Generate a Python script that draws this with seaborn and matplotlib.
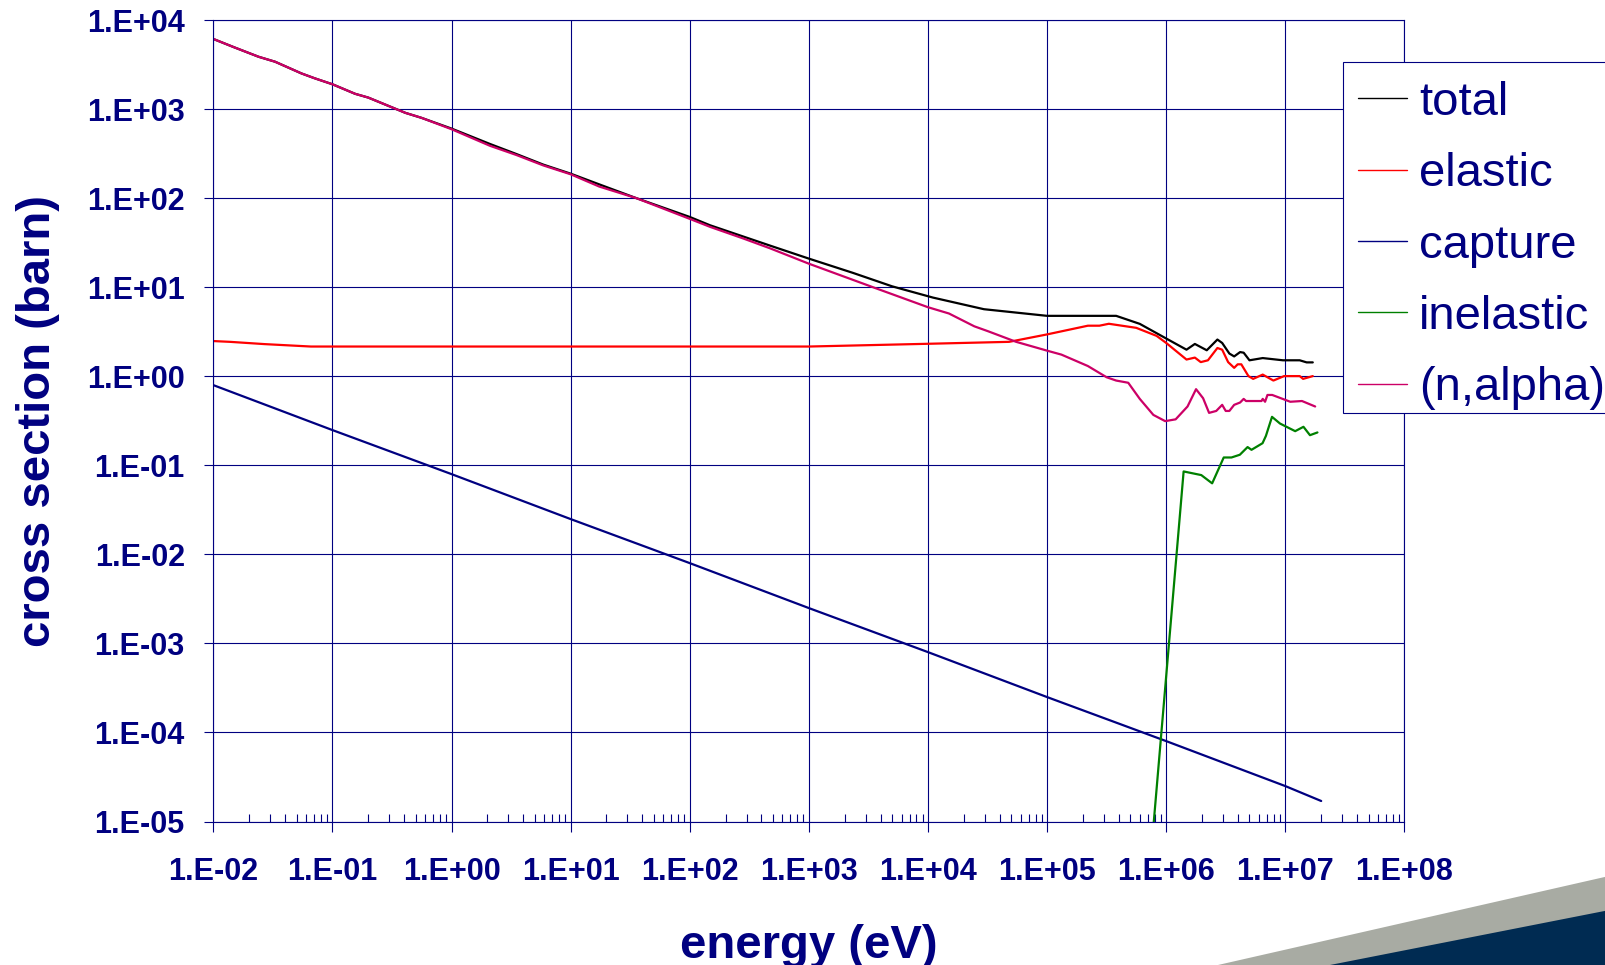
import numpy as np
import pandas as pd
import matplotlib
matplotlib.use("Agg")
import matplotlib.pyplot as plt
from matplotlib.patches import Polygon, Rectangle
from matplotlib.ticker import FuncFormatter, LogLocator, NullLocator, NullFormatter
import seaborn as sns

# ---- cross-section data (energy in eV, cross section in barn) ----
total_E = [1.0e-2, 1.5e-2, 2.4e-2, 3.3e-2, 5.5e-2, 7.1e-2, 1.0e-1, 1.55e-1, 2.0e-1,
           4.1e-1, 5.6e-1, 1.0, 2.1, 3.5, 5.9, 1.0e1, 1.74e1, 3.55e1, 1.0e2, 1.48e2,
           4.7e2, 1.0e3, 2.34e3, 5.0e3, 1.1e4, 2.95e4, 1.0e5, 3.8e5, 6.0e5, 1.0e6,
           1.48e6, 1.74e6, 2.19e6, 2.69e6, 2.95e6, 3.39e6, 3.72e6, 4.17e6, 4.47e6,
           5.0e6, 6.46e6, 9.55e6, 1.32e7, 1.51e7, 1.70e7]
total_xs = [6200, 4990, 3910, 3440, 2540, 2240, 1920, 1500, 1360,
            916, 805, 610, 410, 316, 240, 190, 144, 101, 62, 50,
            29.6, 21.1, 14.6, 10.3, 7.7, 5.7, 4.8, 4.8, 3.9, 2.67,
            2.0, 2.32, 1.97, 2.6, 2.38, 1.81, 1.68, 1.88, 1.85,
            1.52, 1.61, 1.52, 1.52, 1.44, 1.44]

elastic_E = [1.0e-2, 1.38e-2, 2.7e-2, 6.6e-2, 1.0, 1.0e2, 1.0e3, 1.0e4, 4.8e4,
             1.0e5, 2.2e5, 2.75e5, 3.3e5, 5.6e5, 8.3e5, 1.0e6, 1.48e6, 1.74e6,
             1.95e6, 2.24e6, 2.69e6, 2.95e6, 3.31e6, 3.72e6, 3.98e6, 4.27e6,
             4.9e6, 5.37e6, 6.46e6, 7.94e6, 9.77e6, 1.32e7, 1.41e7, 1.70e7]
elastic_xs = [2.5, 2.45, 2.31, 2.17, 2.17, 2.17, 2.17, 2.33, 2.45,
              2.97, 3.72, 3.72, 3.91, 3.52, 2.86, 2.38, 1.55, 1.63,
              1.45, 1.52, 2.09, 2.0, 1.45, 1.25, 1.37, 1.37,
              1.01, 0.94, 1.05, 0.90, 1.01, 1.01, 0.94, 1.01]

capture_E = [1.0e-2, 1.0e-1, 1.0, 1.0e1, 1.0e2, 1.0e3, 1.0e4, 1.0e5, 1.0e6, 1.0e7, 2.0e7]
capture_xs = [0.80, 0.25, 0.080, 0.025, 0.0080, 0.0025, 8.0e-4, 2.5e-4, 8.0e-5, 2.5e-5, 1.7e-5]

inelastic_E = [7.53e5, 1.40e6, 1.97e6, 2.43e6, 3.04e6, 3.53e6, 4.15e6, 4.82e6, 5.20e6,
               6.44e6, 6.87e6, 7.73e6, 9.02e6, 1.21e7, 1.42e7, 1.61e7, 1.86e7]
inelastic_xs = [5.0e-6, 0.0857, 0.078, 0.063, 0.123, 0.123, 0.132, 0.161, 0.150,
                0.178, 0.215, 0.352, 0.296, 0.243, 0.272, 0.219, 0.235]

nalpha_E = [1.0e-2, 1.5e-2, 2.4e-2, 3.3e-2, 5.5e-2, 7.1e-2, 1.0e-1, 1.55e-1, 2.0e-1,
            4.1e-1, 5.6e-1, 1.0, 2.1, 3.5, 5.9, 1.0e1, 1.74e1, 3.55e1, 1.0e2, 1.48e2,
            2.8e2, 4.7e2, 1.0e3, 3.5e3, 1.0e4, 1.5e4, 2.45e4, 3.2e4, 5.5e4, 1.0e5,
            1.32e5, 2.2e5, 3.16e5, 3.8e5, 4.8e5, 6.0e5, 7.8e5, 9.8e5, 1.2e6, 1.51e6,
            1.78e6, 2.04e6, 2.29e6, 2.63e6, 2.95e6, 3.16e6, 3.39e6, 3.72e6, 4.17e6,
            4.47e6, 4.68e6, 6.31e6, 6.46e6, 6.76e6, 7.08e6, 7.76e6, 1.10e7, 1.38e7,
            1.78e7]
nalpha_xs = [6200, 4990, 3910, 3440, 2540, 2240, 1920, 1500, 1360,
             916, 805, 600, 391, 308, 235, 187, 136, 101, 59, 48,
             35.6, 27.6, 18.5, 10.0, 6.0, 5.1, 3.66, 3.22, 2.45, 1.95,
             1.76, 1.31, 0.98, 0.90, 0.85, 0.56, 0.37, 0.315, 0.33, 0.46,
             0.72, 0.57, 0.39, 0.41, 0.48, 0.41, 0.41, 0.48, 0.51,
             0.56, 0.53, 0.53, 0.56, 0.52, 0.62, 0.62, 0.52, 0.53,
             0.46]

series_names = ["total", "elastic", "capture", "inelastic", "(n,alpha)"]
series_colors = ["#000000", "#FF0000", "#000080", "#008000", "#CC0066"]
x_ticks = [1e-2, 1e-1, 1e0, 1e1, 1e2, 1e3, 1e4, 1e5, 1e6, 1e7, 1e8]
y_ticks = [1e-5, 1e-4, 1e-3, 1e-2, 1e-1, 1e0, 1e1, 1e2, 1e3, 1e4]

series_data = {
    "total": (total_E, total_xs),
    "elastic": (elastic_E, elastic_xs),
    "capture": (capture_E, capture_xs),
    "inelastic": (inelastic_E, inelastic_xs),
    "(n,alpha)": (nalpha_E, nalpha_xs),
}

NAVY = "#000080"

sns.set_style("white")
plt.rcParams["font.family"] = ["Liberation Sans", "DejaVu Sans"]

fig = plt.figure(figsize=(16.06, 9.65), dpi=100)
ax = fig.add_axes([0.1328, 0.1487, 0.7417, 0.8301])

for name, color in zip(series_names, series_colors):
    e, s = series_data[name]
    df = pd.DataFrame({"energy": e, "xs": s})
    sns.lineplot(data=df, x="energy", y="xs", ax=ax, color=color, label=name,
                 linewidth=1.6, estimator=None, sort=False)

ax.set_xscale("log")
ax.set_yscale("log")
ax.set_xlim(1e-2, 1e8)
ax.set_ylim(1e-5, 1e4)

fmt = FuncFormatter(lambda v, pos: "1.E%+03d" % int(round(np.log10(v))))
ax.set_xticks(x_ticks)
ax.set_yticks(y_ticks)
ax.xaxis.set_minor_locator(LogLocator(base=10, subs=np.arange(2, 10), numticks=200))
ax.xaxis.set_minor_formatter(NullFormatter())
ax.yaxis.set_minor_locator(NullLocator())
ax.xaxis.set_major_formatter(fmt)
ax.yaxis.set_major_formatter(fmt)

ax.set_axisbelow(True)
ax.grid(True, which="major", color=NAVY, linewidth=0.8)
for sp in ax.spines.values():
    sp.set_color(NAVY)
    sp.set_linewidth(0.8)

ax.tick_params(axis="x", which="major", direction="out", length=7.2, width=0.8,
               color=NAVY, pad=18, bottom=True, labelsize=22, labelcolor=NAVY)
ax.tick_params(axis="x", which="minor", direction="in", length=5.8, width=0.8,
               color=NAVY, bottom=True)
ax.tick_params(axis="y", which="major", direction="out", length=6.5, width=0.8,
               color=NAVY, pad=14, left=True, labelsize=22, labelcolor=NAVY)
for lab in ax.get_xticklabels() + ax.get_yticklabels():
    lab.set_fontweight("bold")

ax.set_xlabel("energy (eV)", fontsize=34, fontweight="bold", color=NAVY)
ax.set_ylabel("cross section (barn)", fontsize=34, fontweight="bold", color=NAVY)
ax.xaxis.set_label_coords(0.5, -0.155)
ax.xaxis.label.set_va("center")
ax.yaxis.set_label_coords(-0.147, 0.5)
ax.yaxis.label.set_va("center")
ax.yaxis.label.set_ha("center")

# legend box (white panel with navy outline), then the entries on top of it
legend_panel = Rectangle((1343 / 1606, (965 - 413) / 965), 0.3, (413 - 62) / 965,
                         transform=fig.transFigure, facecolor="white",
                         edgecolor=NAVY, linewidth=0.8, clip_on=False, zorder=4)
ax.add_artist(legend_panel)

leg = ax.legend(loc="upper left", bbox_to_anchor=(1339 / 1606, 0.9358),
                bbox_transform=fig.transFigure, borderaxespad=0, fontsize=34,
                labelcolor=NAVY, frameon=False, borderpad=0.4, labelspacing=0.58,
                handlelength=1.04, handletextpad=0.25)
leg.set_zorder(5)
for h in leg.get_lines():
    h.set_linewidth(1.0)

# slide corner decoration
fig.patches.append(Polygon([(1218 / 1606, 0), (1.0, 88.3 / 965), (1.0, 0)],
                           closed=True, transform=fig.transFigure,
                           facecolor="#A8ABA3", edgecolor="none", zorder=0))
fig.patches.append(Polygon([(1330 / 1606, 0), (1.0, 54.3 / 965), (1.0, 0)],
                           closed=True, transform=fig.transFigure,
                           facecolor="#002B52", edgecolor="none", zorder=1))

fig.savefig("out.png", dpi=100)
